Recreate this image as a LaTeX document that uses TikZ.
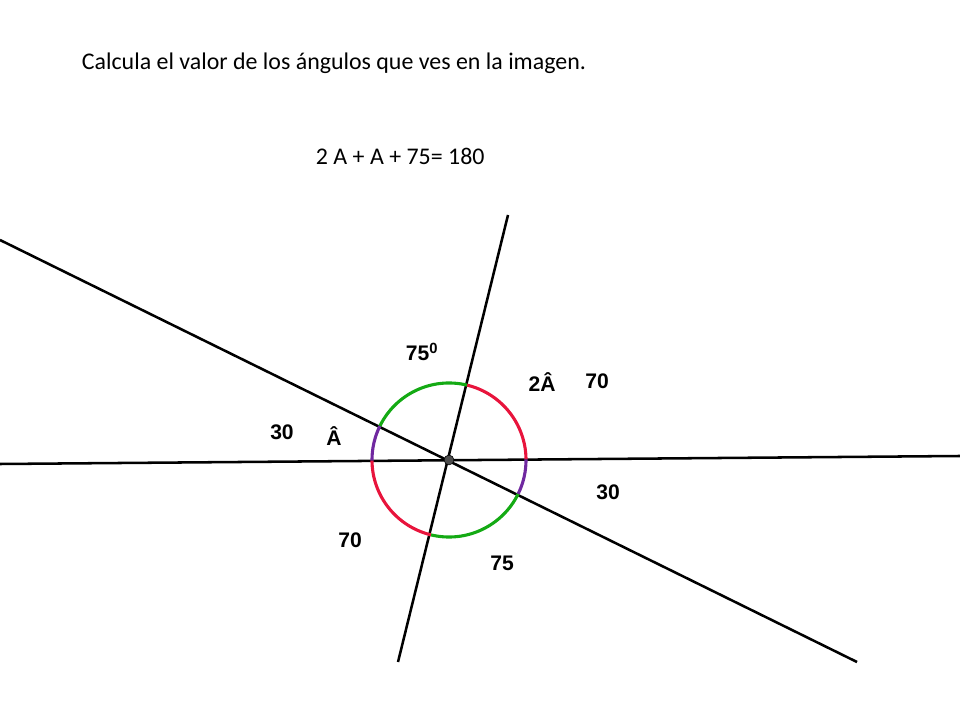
\documentclass[tikz,border=0pt]{standalone}
\usepackage{fontspec}
\setmainfont{Carlito}
\newfontfamily\lblfont{Liberation Sans}
\definecolor{arcred}{RGB}{232,20,60}
\definecolor{arcgreen}{RGB}{20,170,20}
\definecolor{arcpurple}{RGB}{112,40,160}
\begin{document}
\begin{tikzpicture}[x=0.025cm, y=-0.025cm,
  ray/.style={line width=1.8pt, black},
  arcseg/.style={line width=2.2pt},
  lbl/.style={font=\lblfont\bfseries\fontsize{15}{17}\selectfont}]
  \useasboundingbox (0,0) rectangle (960,720);
  % Header
  \node (title) [anchor=west, font=\fontsize{17}{20}\selectfont] at (77, 63) {Calcula el valor de los ángulos que ves en la imagen.};
  \node (eq) [anchor=west, font=\fontsize{17}{20}\selectfont] at (311, 156) {2 A + A + 75= 180};
  % Points
  \coordinate (O) at (449, 460);
  \coordinate (H1) at (0, 464);
  \coordinate (H2) at (960, 456);
  \coordinate (S1) at (508, 215);
  \coordinate (S2) at (398, 662);
  \coordinate (D1) at (0, 240);
  \coordinate (D2) at (857, 662);
  % Lines
  \draw[ray] (H1) -- (H2);
  \draw[ray] (S1) -- (S2);
  \draw[ray] (D1) -- (D2);
  % Arcs
  \foreach \a/\b/\c in {0.4/76.5/arcred, 76.5/153.9/arcgreen, 153.9/180.5/arcpurple,
                        180.5/256.5/arcred, 256.5/333.9/arcgreen, 333.9/360.4/arcpurple}
    \draw[arcseg, \c] ([shift={(\a:1.925cm)}]O) arc[start angle=\a, end angle=\b, radius=1.925cm];
  \node (dot) [circle, fill=black!70, draw=black, inner sep=0pt, minimum size=7pt] at (O) {};
  % Labels
  \node (l75top) [lbl] at (422, 352) {75\textsuperscript{0}};
  \node (l2A) [lbl] at (542, 382) {2Â};
  \node (l70a) [lbl] at (597, 381) {70};
  \node (l30a) [lbl] at (282, 432) {30};
  \node (lA) [lbl] at (334, 436) {Â};
  \node (l30b) [lbl] at (608, 492) {30};
  \node (l70b) [lbl] at (350, 540) {70};
  \node (l75) [lbl] at (502, 563) {75};
\end{tikzpicture}
\end{document}
